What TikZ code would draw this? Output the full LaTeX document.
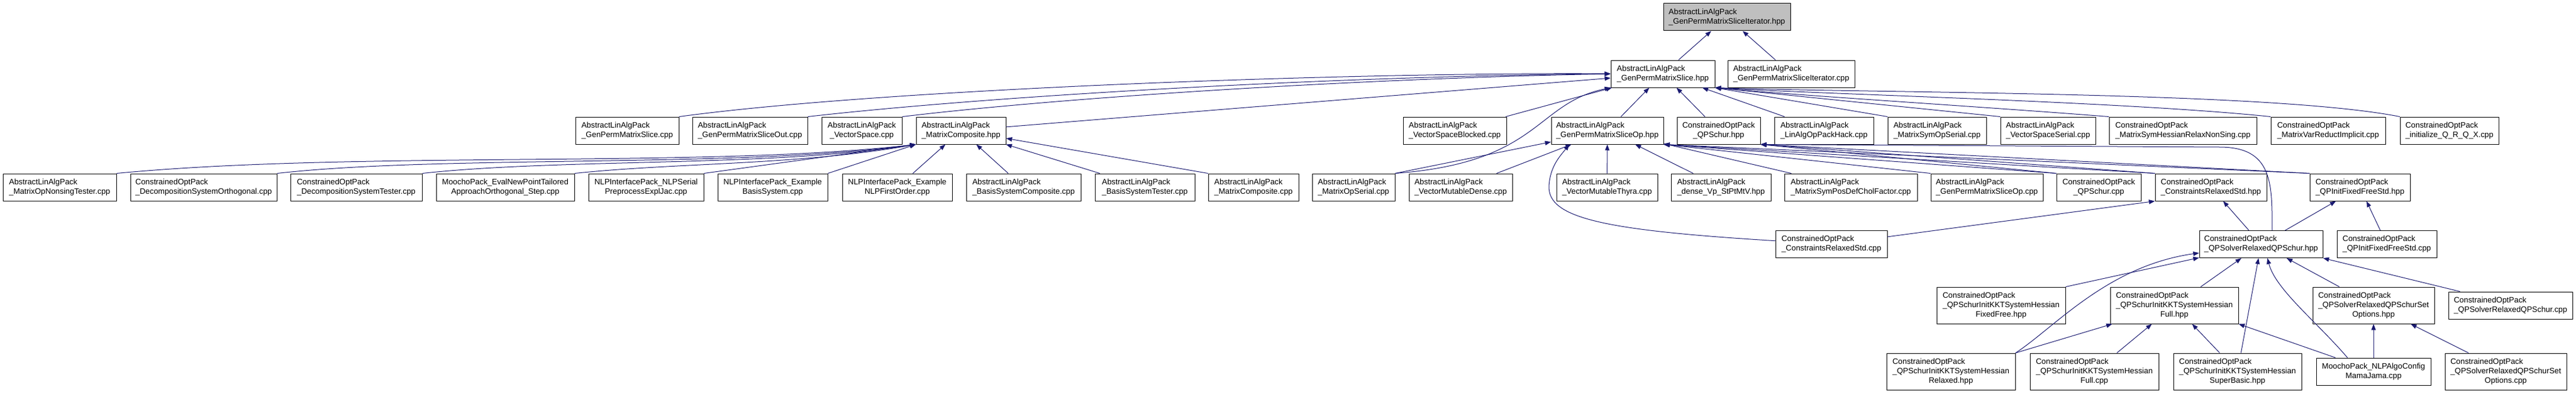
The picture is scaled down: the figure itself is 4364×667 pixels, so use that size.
\documentclass[tikz,border=0pt]{standalone}
\usepackage{fontspec}
\setmainfont{Liberation Sans}
\usepackage{tikz}
\usetikzlibrary{arrows.meta}
\definecolor{edgeblue}{HTML}{191970}
\definecolor{rootgray}{HTML}{BFBFBF}
\newcommand{\fl}[2]{\begin{tabular}{@{}l@{}}#1\\\multicolumn{1}{@{}c@{}}{#2}\end{tabular}}
\newcommand{\fc}[2]{\begin{tabular}{@{}c@{}}#1\\#2\end{tabular}}

\begin{document}
\begin{tikzpicture}[x=0.75pt,y=-0.75pt,
        every node/.style={font=\fontsize{10}{12}\selectfont},
        file/.style={draw=black,fill=white,line width=0.75pt,inner sep=0pt,minimum height=34.5pt},
        tall/.style={file,minimum height=46.5pt},
        dep/.style={draw=edgeblue,line width=0.75pt,-{Triangle[length=7.5pt,width=5.5pt]}}]
                \useasboundingbox (0,0) rectangle (4364,667);
                \node[file,fill=rootgray,minimum width=161.25pt] (top) at (2925.5,29) {\fl{AbstractLinAlgPack}{\_GenPermMatrixSliceIterator.hpp}};
                \node[file,minimum width=132pt] (gpms) at (2817,125) {\fl{AbstractLinAlgPack}{\_GenPermMatrixSlice.hpp}};
                \node[file,minimum width=161.25pt] (gpmsitcpp) at (3034.5,125) {\fl{AbstractLinAlgPack}{\_GenPermMatrixSliceIterator.cpp}};

                \node[file,minimum width=131.25pt] (gpmscpp) at (1062.5,221) {\fl{AbstractLinAlgPack}{\_GenPermMatrixSlice.cpp}};
                \node[file,minimum width=146.25pt] (gpmsout) at (1270.5,221) {\fl{AbstractLinAlgPack}{\_GenPermMatrixSliceOut.cpp}};
                \node[file,minimum width=102pt] (vspace) at (1460,221) {\fl{AbstractLinAlgPack}{\_VectorSpace.cpp}};
                \node[file,minimum width=114pt] (matcomp) at (1628,221) {\fl{AbstractLinAlgPack}{\_MatrixComposite.hpp}};
                \node[file,minimum width=131.25pt] (vsblocked) at (2464.5,221) {\fl{AbstractLinAlgPack}{\_VectorSpaceBlocked.cpp}};
                \node[file,minimum width=142.5pt] (gpmsop) at (2723,221) {\fl{AbstractLinAlgPack}{\_GenPermMatrixSliceOp.hpp}};
                \node[file,minimum width=105.75pt] (qpschur) at (2911.5,221) {\fl{ConstrainedOptPack}{\_QPSchur.hpp}};
                \node[file,minimum width=126pt] (linalghack) at (3090,221) {\fl{AbstractLinAlgPack}{\_LinAlgOpPackHack.cpp}};
                \node[file,minimum width=125.25pt] (symopserial) at (3281.5,221) {\fl{AbstractLinAlgPack}{\_MatrixSymOpSerial.cpp}};
                \node[file,minimum width=120.75pt] (vsserial) at (3469.5,221) {\fl{AbstractLinAlgPack}{\_VectorSpaceSerial.cpp}};
                \node[file,minimum width=187.5pt] (hessrelax) at (3698,221) {\fl{ConstrainedOptPack}{\_MatrixSymHessianRelaxNonSing.cpp}};
                \node[file,minimum width=145.5pt] (varreduct) at (3944,221) {\fl{ConstrainedOptPack}{\_MatrixVarReductImplicit.cpp}};
                \node[file,minimum width=125.25pt] (initqr) at (4149.5,221) {\fl{ConstrainedOptPack}{\_initialize\_Q\_R\_Q\_X.cpp}};

                \node[file,minimum width=144pt] (opnonsing) at (101,317) {\fl{AbstractLinAlgPack}{\_MatrixOpNonsingTester.cpp}};
                \node[file,minimum width=186pt] (decorth) at (345,317) {\fl{ConstrainedOptPack}{\_DecompositionSystemOrthogonal.cpp}};
                \node[file,minimum width=167.25pt] (dectester) at (603.5,317) {\fl{ConstrainedOptPack}{\_DecompositionSystemTester.cpp}};
                \node[file,minimum width=175.5pt] (evalnew) at (856,317) {\fc{MoochoPack\_EvalNewPointTailored}{ApproachOrthogonal\_Step.cpp}};
                \node[file,minimum width=146.25pt] (nlpserial) at (1094.5,317) {\fc{NLPInterfacePack\_NLPSerial}{PreprocessExplJac.cpp}};
                \node[file,minimum width=139.5pt] (exbasis) at (1309,317) {\fc{NLPInterfacePack\_Example}{BasisSystem.cpp}};
                \node[file,minimum width=139.5pt] (exnlp) at (1520,317) {\fc{NLPInterfacePack\_Example}{NLPFirstOrder.cpp}};
                \node[file,minimum width=145.5pt] (bscomp) at (1734,317) {\fl{AbstractLinAlgPack}{\_BasisSystemComposite.cpp}};
                \node[file,minimum width=126.75pt] (bstester) at (1939.5,317) {\fl{AbstractLinAlgPack}{\_BasisSystemTester.cpp}};
                \node[file,minimum width=114.75pt] (matcompcpp) at (2123.5,317) {\fl{AbstractLinAlgPack}{\_MatrixComposite.cpp}};
                \node[file,minimum width=105pt] (opserial) at (2293,317) {\fl{AbstractLinAlgPack}{\_MatrixOpSerial.cpp}};
                \node[file,minimum width=131.25pt] (vmdense) at (2474.5,317) {\fl{AbstractLinAlgPack}{\_VectorMutableDense.cpp}};
                \node[file,minimum width=128.25pt] (vmthyra) at (2722.5,317) {\fl{AbstractLinAlgPack}{\_VectorMutableThyra.cpp}};
                \node[file,minimum width=126.75pt] (densevp) at (2915.5,317) {\fl{AbstractLinAlgPack}{\_dense\_Vp\_StPtMtV.hpp}};
                \node[file,minimum width=168.75pt] (cholfac) at (3135.5,317) {\fl{AbstractLinAlgPack}{\_MatrixSymPosDefCholFactor.cpp}};
                \node[file,minimum width=142.5pt] (gpmsopcpp) at (3366,317) {\fl{AbstractLinAlgPack}{\_GenPermMatrixSliceOp.cpp}};
                \node[file,minimum width=107.25pt] (qpschurcpp) at (3555.5,317) {\fl{ConstrainedOptPack}{\_QPSchur.cpp}};
                \node[file,minimum width=141.75pt] (crstdhpp) at (3745.5,317) {\fl{ConstrainedOptPack}{\_ConstraintsRelaxedStd.hpp}};
                \node[file,minimum width=127.5pt] (initffhpp) at (3998,317) {\fl{ConstrainedOptPack}{\_QPInitFixedFreeStd.hpp}};

                \node[file,minimum width=141.75pt] (crstdcpp) at (3102.5,413.5) {\fl{ConstrainedOptPack}{\_ConstraintsRelaxedStd.cpp}};
                \node[file,minimum width=156.75pt] (qpsolver) at (3830.5,413.5) {\fl{ConstrainedOptPack}{\_QPSolverRelaxedQPSchur.hpp}};
                \node[file,minimum width=126.75pt] (initffcpp) at (4043.5,413.5) {\fl{ConstrainedOptPack}{\_QPInitFixedFreeStd.cpp}};

                \node[tall,minimum width=163.5pt] (kktff) at (3390,517) {\fl{ConstrainedOptPack\\\_QPSchurInitKKTSystemHessian}{FixedFree.hpp}};
                \node[tall,minimum width=162.75pt] (kktfullhpp) at (3683.5,517) {\fl{ConstrainedOptPack\\\_QPSchurInitKKTSystemHessian}{Full.hpp}};
                \node[tall,minimum width=154.5pt] (setopthpp) at (4021,517) {\fl{ConstrainedOptPack\\\_QPSolverRelaxedQPSchurSet}{Options.hpp}};
                \node[file,minimum width=157.5pt] (qpsolvercpp) at (4253,517) {\fl{ConstrainedOptPack}{\_QPSolverRelaxedQPSchur.cpp}};

                \node[tall,minimum width=163.5pt] (kktrel) at (3305,629) {\fl{ConstrainedOptPack\\\_QPSchurInitKKTSystemHessian}{Relaxed.hpp}};
                \node[tall,minimum width=163.5pt] (kktfullcpp) at (3548,629) {\fl{ConstrainedOptPack\\\_QPSchurInitKKTSystemHessian}{Full.cpp}};
                \node[tall,minimum width=162.75pt] (kktsb) at (3790.5,629) {\fl{ConstrainedOptPack\\\_QPSchurInitKKTSystemHessian}{SuperBasic.hpp}};
                \node[file,minimum width=145.5pt] (mamajama) at (4021,629) {\fc{MoochoPack\_NLPAlgoConfig}{MamaJama.cpp}};
                \node[tall,minimum width=154.5pt] (setoptcpp) at (4245,629) {\fl{ConstrainedOptPack\\\_QPSolverRelaxedQPSchurSet}{Options.cpp}};

                \draw[dep] (gpms) -- (top);
                \draw[dep] (gpmsitcpp) -- (top);

                \draw[dep] (gpmscpp.north east) .. controls (1500,150) and (2300,122) .. (gpms.west);
                \draw[dep] (gpmsout.north east) .. controls (1700,160) and (2300,128) .. (gpms.west);
                \draw[dep] (vspace.north east) .. controls (1800,165) and (2300,133) .. (gpms.west);
                \draw[dep] (matcomp) -- (gpms);
                \draw[dep] (vsblocked) -- (gpms);
                \draw[dep] (opserial.north east) .. controls (2610,275) and (2600,175) .. (gpms.south west);
                \draw[dep] (gpmsop) -- (gpms);
                \draw[dep] (qpschur) -- (gpms);
                \draw[dep] (linalghack) -- (gpms);
                \draw[dep] (symopserial.north west) -- (gpms.south east);
                \draw[dep] (vsserial.north west) -- (gpms.south east);
                \draw[dep] (hessrelax.north west) .. controls (3350,180) and (3050,162) .. (gpms.south east);
                \draw[dep] (varreduct.north west) .. controls (3600,172) and (3100,160) .. (gpms.south east);
                \draw[dep] (initqr.north west) .. controls (3850,155) and (3200,158) .. (gpms.south east);

                \draw[dep] (opnonsing.north east) .. controls (600,255) and (1200,285) .. (matcomp.south west);
                \draw[dep] (decorth.north east) .. controls (750,262) and (1250,285) .. (matcomp.south west);
                \draw[dep] (dectester.north east) .. controls (950,268) and (1300,283) .. (matcomp.south west);
                \draw[dep] (evalnew.north east) .. controls (1150,275) and (1350,280) .. (matcomp.south west);
                \draw[dep] (nlpserial.north east) -- (matcomp.south west);
                \draw[dep] (exbasis.north east) -- (matcomp.south west);
                \draw[dep] (exnlp) -- (matcomp);
                \draw[dep] (bscomp) -- (matcomp);
                \draw[dep] (bstester) -- (matcomp);
                \draw[dep] (matcompcpp.north west) -- (matcomp);

                \draw[dep] (opserial.north east) -- (gpmsop);
                \draw[dep] (vmdense) -- (gpmsop);
                \draw[dep] (crstdcpp) .. controls (2720,390) and (2622,370) .. (2624,315) .. controls (2626,280) and (2645,262) .. (gpmsop.200);
                \draw[dep] (vmthyra) -- (gpmsop);
                \draw[dep] (densevp) -- (gpmsop);
                \draw[dep] (cholfac) -- (gpmsop);
                \draw[dep] (gpmsopcpp.north west) -- (gpmsop.south east);
                \draw[dep] (qpschurcpp.north west) -- (gpmsop.south east);
                \draw[dep] (crstdhpp.north west) -- (gpmsop.south east);
                \draw[dep] (initffhpp.north west) -- (gpmsop.south east);

                \draw[dep] (qpschurcpp.north west) -- (qpschur.south east);
                \draw[dep] (crstdhpp.north west) -- (qpschur.south east);
                \draw[dep] (initffhpp.north west) -- (qpschur.south east);
                \draw[dep] ([xshift=14pt]qpsolver.north) .. controls +(0,-80) and +(90,0) .. (3760,249) -- (qpschur.south east);

                \draw[dep] (crstdcpp) -- (crstdhpp.south west);
                \draw[dep] (qpsolver) -- (crstdhpp);
                \draw[dep] (qpsolver) -- (initffhpp);
                \draw[dep] (initffcpp) -- (initffhpp);

                \draw[dep] (kktrel.north east) .. controls (3480,555) and (3570,450) .. (qpsolver.188);
                \draw[dep] (kktff.north east) -- (qpsolver);
                \draw[dep] (kktfullhpp) -- (qpsolver);
                \draw[dep] (kktsb) -- (qpsolver);
                \draw[dep] (mamajama.152) .. controls (3925,545) and (3855,490) .. ([xshift=8pt]qpsolver.south);
                \draw[dep] (setopthpp) -- (qpsolver);
                \draw[dep] ([xshift=15pt]qpsolvercpp.north west) -- (qpsolver.south east);

                \draw[dep] (kktrel.north east) -- (kktfullhpp);
                \draw[dep] (kktfullcpp) -- (kktfullhpp);
                \draw[dep] (kktsb) -- (kktfullhpp);
                \draw[dep] (mamajama.160) -- (kktfullhpp.south east);
                \draw[dep] (mamajama) -- (setopthpp);
                \draw[dep] (setoptcpp) -- (setopthpp);
            \end{tikzpicture}
\end{document}
